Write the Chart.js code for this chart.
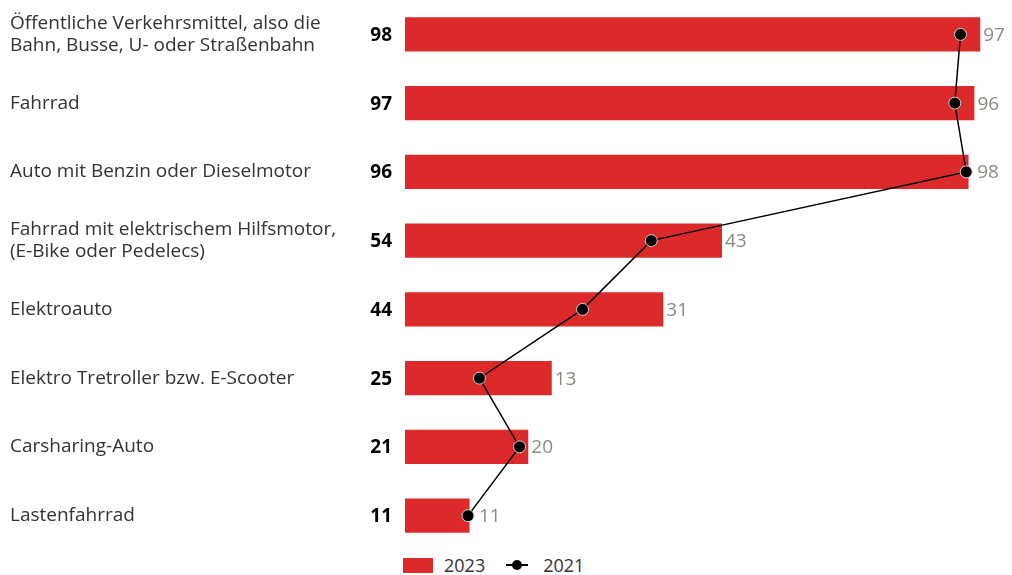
<!DOCTYPE html>
<html>
<head>
<meta charset="utf-8">
<script src="https://cdn.jsdelivr.net/npm/chart.js@4"></script>
<style>
  body { margin: 0; background: #fff; font-family: "Open Sans", sans-serif; }
  #wrap { position: relative; width: 1012px; height: 550px; }
  #legend { position: absolute; top: 553px; left: 403px; display: flex; align-items: center; font-size: 18px; color: #333; }
  #legend .box { width: 30px; height: 15px; background: #dc2a2a; margin-right: 11px; }
  #legend .ln { position: relative; width: 22px; height: 2px; background: #000; margin: 0 15px 0 21px; }
  #legend .ln::after { content: ""; position: absolute; left: 6px; top: -4px; width: 10px; height: 10px; border-radius: 50%; background: #000; }
</style>
</head>
<body>
<div id="wrap"><canvas id="chart"></canvas></div>
<div id="legend"><span class="box"></span>2023<span class="ln"></span>2021</div>
<script>
/* ---------- DATA ---------- */
const categories = [
  ["Öffentliche Verkehrsmittel, also die", "Bahn, Busse, U- oder Straßenbahn"],
  "Fahrrad",
  "Auto mit Benzin oder Dieselmotor",
  ["Fahrrad mit elektrischem Hilfsmotor,", "(E-Bike oder Pedelecs)"],
  "Elektroauto",
  "Elektro Tretroller bzw. E-Scooter",
  "Carsharing-Auto",
  "Lastenfahrrad",
];
const values2023 = [98, 97, 96, 54, 44, 25, 21, 11];
const values2021 = [97, 96, 98, 43, 31, 13, 20, 11];

const RED = "#dc2a2a";
const GREY = "#8c8b82";

/* ---------- VALUE LABELS ---------- */
const valueLabels = {
  id: "valueLabels",
  afterDatasetsDraw(chart) {
    const { ctx } = chart;
    const pts = chart.getDatasetMeta(0).data;
    const bars = chart.getDatasetMeta(1).data;
    ctx.save();
    ctx.textBaseline = "middle";

    // bold 2023 values left of the bars
    ctx.font = "bold 19px 'Open Sans', sans-serif";
    ctx.fillStyle = "#000";
    ctx.textAlign = "right";
    bars.forEach((b, i) => ctx.fillText(values2023[i], 392, b.y + 1));

    // grey 2021 values right of bar / point
    ctx.font = "19px 'Open Sans', sans-serif";
    ctx.fillStyle = GREY;
    ctx.textAlign = "left";
    pts.forEach((p, i) => {
      const x = Math.max(bars[i].x + 3, p.x + 11);
      ctx.fillText(values2021[i], x, p.y + 1);
    });
    ctx.restore();
  },
};

new Chart(document.getElementById("chart"), {
  data: {
    labels: categories,
    datasets: [
      {
        type: "line",
        label: "2021",
        data: values2021,
        xAxisID: "x2",
        borderColor: "#000",
        borderWidth: 1.5,
        pointRadius: 6,
        pointBackgroundColor: "#000",
        pointBorderColor: "#d0d0d0",
        pointBorderWidth: 1,
        clip: false,
        order: 0,
      },
      {
        type: "bar",
        label: "2023",
        data: values2023,
        backgroundColor: RED,
        barPercentage: 0.5,
        categoryPercentage: 1,
        order: 1,
      },
    ],
  },
  options: {
    indexAxis: "y",
    responsive: true,
    maintainAspectRatio: false,
    animation: false,
    layout: { autoPadding: false, padding: { left: 10, right: 20, top: -2, bottom: -2 } },
    plugins: { legend: { display: false }, tooltip: { enabled: false } },
    scales: {
      x: { min: 0, max: 100, display: false },
      x2: { min: 0, max: 102.5, display: false },
      y: {
        grid: { display: false },
        border: { display: false },
        afterFit: (scale) => {
          scale.width = 395;
          scale.paddingTop = 0;
          scale.paddingBottom = 0;
        },
        ticks: {
          crossAlign: "far",
          color: "#333",
          font: { family: "'Open Sans', sans-serif", size: 19, lineHeight: 1.16 },
        },
      },
    },
  },
  plugins: [valueLabels],
});
</script>
</body>
</html>
